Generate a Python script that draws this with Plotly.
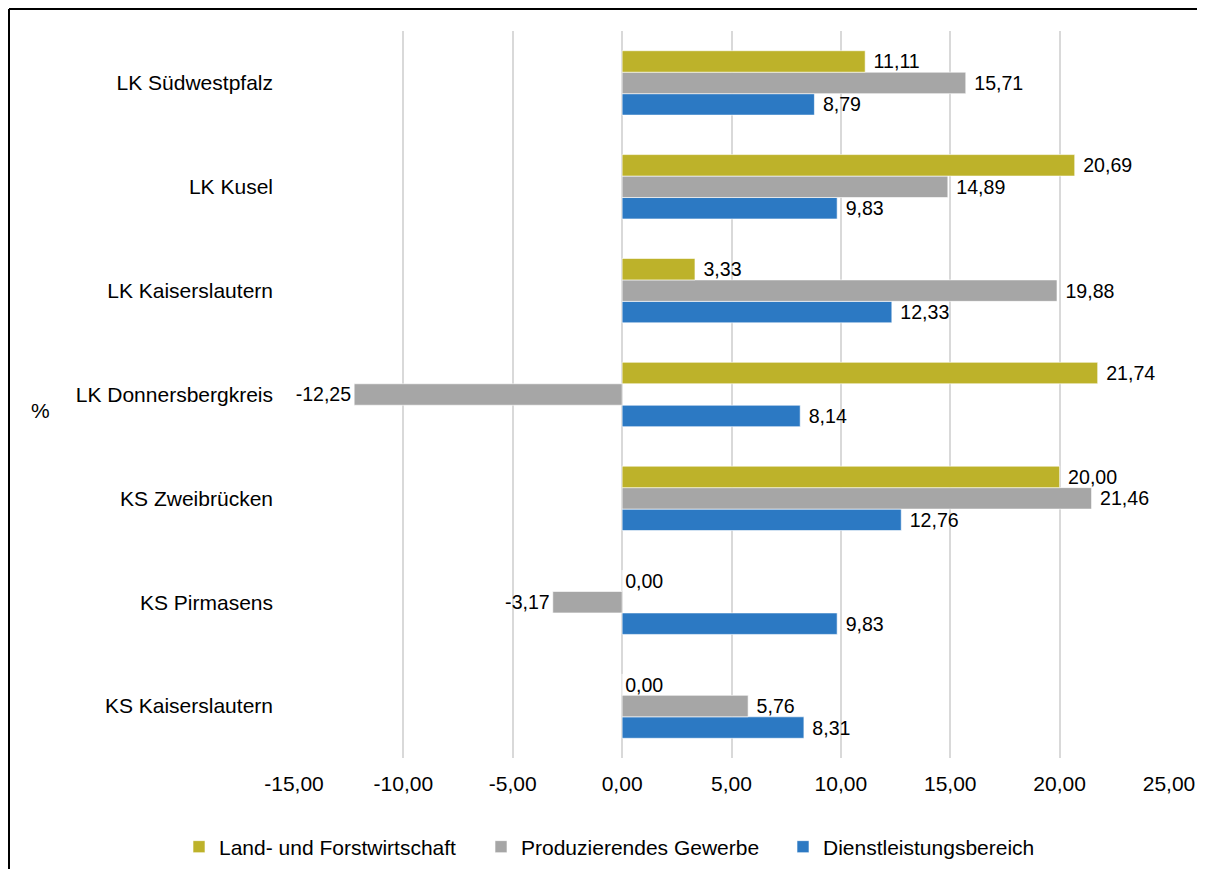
import plotly.graph_objects as go

categories = ["KS Kaiserslautern", "KS Pirmasens", "KS Zweibrücken", "LK Donnersbergkreis",
              "LK Kaiserslautern", "LK Kusel", "LK Südwestpfalz"]
land = [0.00, 0.00, 20.00, 21.74, 3.33, 20.69, 11.11]
prod = [5.76, -3.17, 21.46, -12.25, 19.88, 14.89, 15.71]
dienst = [8.31, 9.83, 12.76, 8.14, 12.33, 9.83, 8.79]
x_ticks = [-15, -10, -5, 0, 5, 10, 15, 20, 25]

names = ["Dienstleistungsbereich", "Produzierendes Gewerbe", "Land- und Forstwirtschaft"]
series = [dienst, prod, land]
colors = ["#2C79C3", "#A6A6A6", "#BDB22A"]
ranks = [3, 2, 1]

FONT = "Liberation Sans, Arial, sans-serif"
FS = 21


def fmt(v):
    return f"{v:.2f}".replace(".", ",")


def label(v):
    return (" " + fmt(v)) if v > 0 else fmt(v)


fig = go.Figure()
for n, s, c, r in zip(names, series, colors, ranks):
    fig.add_trace(go.Bar(
        y=categories, x=s, name=n, orientation="h",
        marker=dict(color=c, line=dict(color="rgba(255,255,255,0.6)", width=1)),
        text=[label(v) for v in s],
        textposition="outside", cliponaxis=False,
        textfont=dict(size=FS, color="#000000", family=FONT),
        legendrank=r,
    ))

W, H = 1189, 861
L, R, T, B = 286, 28, 23, 111
pw, ph = W - L - R, H - T - B

fig.update_layout(
    width=W, height=H,
    barmode="group", bargap=0.38, bargroupgap=0,
    plot_bgcolor="white", paper_bgcolor="white",
    margin=dict(l=L, r=R, t=T, b=B, autoexpand=False),
    font=dict(family=FONT, size=FS, color="#000000"),
    xaxis=dict(range=[-15, 25], tickvals=x_ticks, ticktext=[fmt(v) for v in x_ticks],
               showgrid=True, gridcolor="#D9D9D9", gridwidth=2,
               zeroline=False, showline=False, ticks="", ticklabelstandoff=11,
               tickfont=dict(size=FS)),
    yaxis=dict(showgrid=False, zeroline=False, showline=False, ticks="",
               ticklabelstandoff=20, tickfont=dict(size=FS)),
    legend=dict(orientation="h", xref="paper", yref="paper",
                x=(171 - L) / pw, xanchor="left", y=-(839 - (H - B)) / ph, yanchor="middle",
                font=dict(size=FS), itemwidth=30, entrywidth=257, traceorder="normal"),
    showlegend=True,
)

fig.add_annotation(text="%", xref="paper", yref="paper",
                   x=(32 - L) / pw, y=1 - (402 - T) / ph,
                   showarrow=False, font=dict(size=FS), xanchor="center", yanchor="middle")

# frame (top and left edges visible in the reference)
fig.add_shape(type="line", xref="paper", yref="paper",
              x0=(1 - L) / pw, x1=(W - L) / pw, y0=1 + (T - 1) / ph, y1=1 + (T - 1) / ph,
              line=dict(color="#000000", width=2))
fig.add_shape(type="line", xref="paper", yref="paper",
              x0=(1 - L) / pw, x1=(1 - L) / pw, y0=1 + (T - 1) / ph, y1=1 - (H - T) / ph,
              line=dict(color="#000000", width=2))

fig.write_html("out.html")
